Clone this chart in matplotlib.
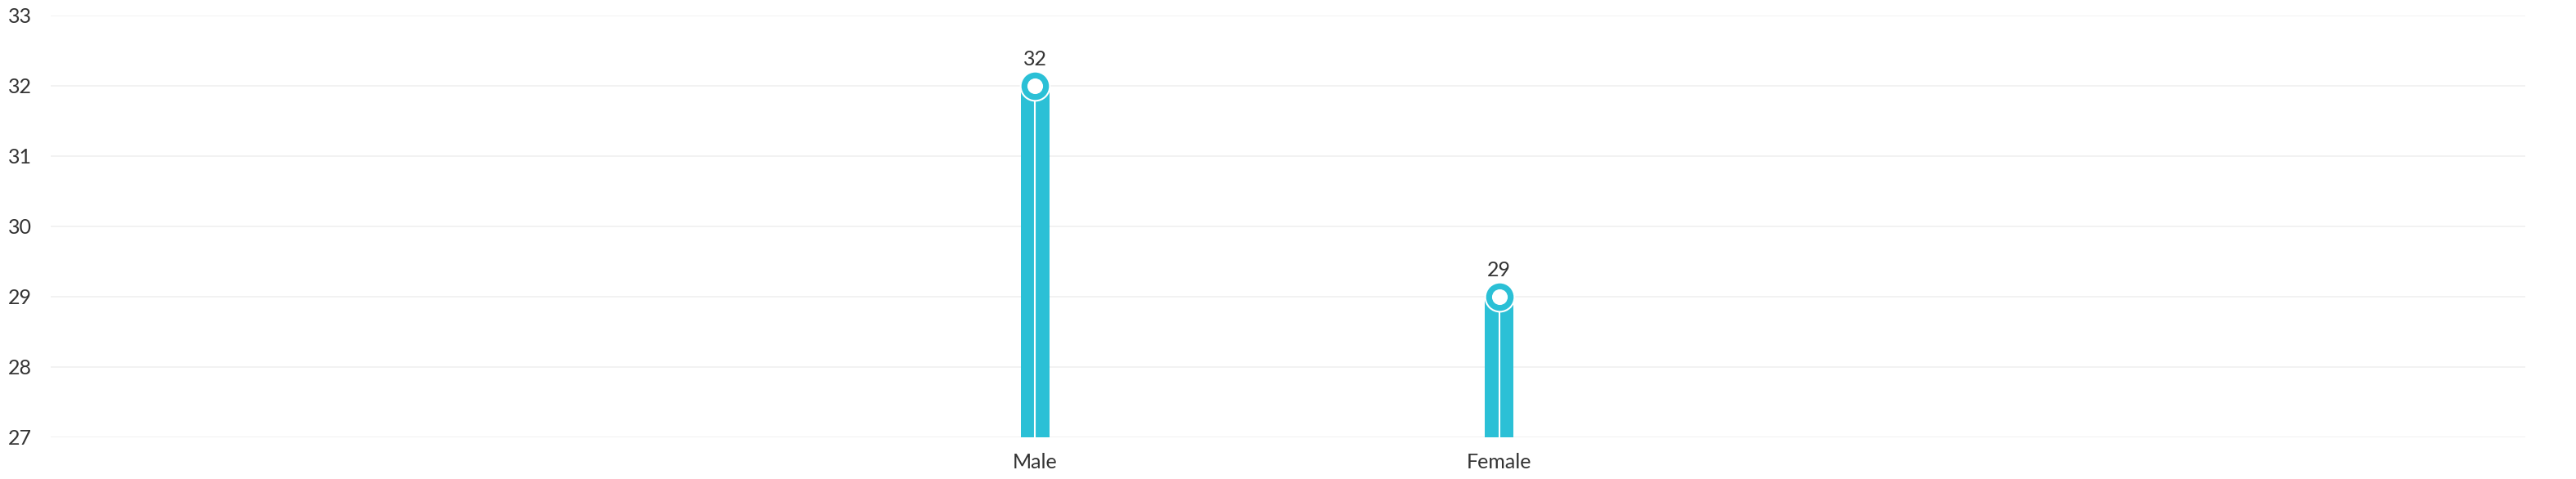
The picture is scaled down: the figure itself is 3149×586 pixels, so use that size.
import numpy as np
import matplotlib.pyplot as plt

categories = ['Male', 'Female']
values = [32, 29]
yticks = [27, 28, 29, 30, 31, 32, 33]

teal = '#2bc0d6'
textc = '#333333'

plt.rcParams['font.family'] = ['Lato', 'DejaVu Sans']

fig = plt.figure(figsize=(31.49, 5.86), dpi=100)
ax = fig.add_axes([62/3149, 51/586, (3087-62)/3149, (535-19)/586])

x = np.arange(len(categories))
ax.bar(x, [v - 27 for v in values], bottom=27, width=0.062, color=teal, zorder=3)
ax.vlines(x, 27, values, color='white', lw=1.5, zorder=4)
ax.scatter(x, values, s=660, color=teal, edgecolor='white', linewidth=1.5, zorder=5)
ax.scatter(x, values, s=190, color='white', linewidth=0, zorder=6)
for xi, v in zip(x, values):
    ax.annotate(str(v), (xi, v), xytext=(0, 18), textcoords='offset points',
                ha='center', va='baseline', fontsize=18, color=textc)

ax.set_xlim(-2.12, 3.21)
ax.set_ylim(27, 33)
ax.set_yticks(yticks)
ax.set_xticks(x)
ax.set_xticklabels(categories)
ax.tick_params(axis='both', length=0, labelsize=18, labelcolor=textc)
ax.tick_params(axis='x', pad=14)
for t in ax.get_yticklabels():
    t.set_horizontalalignment('left')
    t.set_x(-52/3025)
ax.tick_params(axis='y', pad=0)
ax.grid(axis='y', color='#f0f0f0', lw=1.2, zorder=0)
for s in ax.spines.values():
    s.set_visible(False)

fig.savefig('out.png', dpi=100)
